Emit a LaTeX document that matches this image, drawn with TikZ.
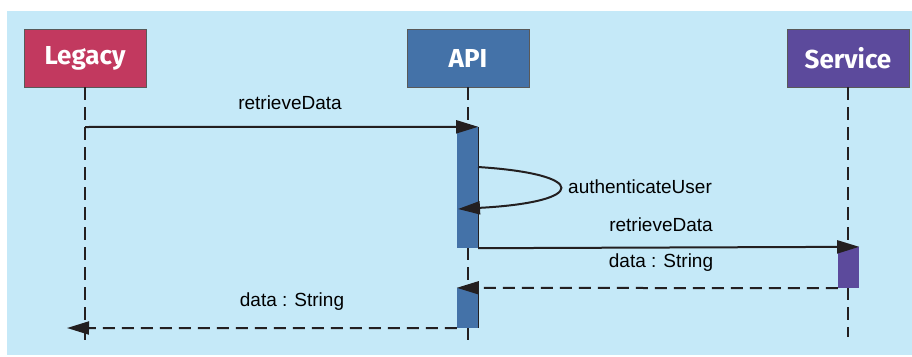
\documentclass[tikz,border=0pt]{standalone}
\usepackage{fontspec}
\setmainfont{Liberation Sans}
\newfontfamily\headfont{Fira Sans}[UprightFont=* Bold]
\usetikzlibrary{arrows.meta}
\definecolor{bgblue}{HTML}{C5E9F8}
\definecolor{legacyc}{HTML}{C2395F}
\definecolor{apic}{HTML}{4472A8}
\definecolor{servc}{HTML}{5C4A9C}
\definecolor{inkc}{HTML}{231F20}
\tikzset{
  x=1pt,y=-1pt,
  actor/.style={minimum width=122pt,minimum height=58pt,inner sep=0pt,draw=gray!70!black,line width=0.6pt,
    text=white,font=\headfont\fontsize{26}{26}\selectfont},
  lifeline/.style={draw=inkc,line width=2.6pt,dash pattern=on 13pt off 7pt},
  msg/.style={draw=inkc,line width=2pt,-{Triangle[length=22pt,width=13pt]}},
  reply/.style={msg,dash pattern=on 12pt off 7pt},
  lbl/.style={font=\fontsize{19}{19}\selectfont,text=black,inner sep=0pt},
  actbar/.style={inner sep=0pt,minimum width=21pt}
}
\begin{document}
\begin{tikzpicture}
\useasboundingbox (0,0) rectangle (912,356);
\fill[bgblue] (7,11) rectangle (912,355);
% actors
\node[actor,fill=legacyc] (legacy) at (85,58) {Legacy};
\node[actor,fill=apic] (api) at (468,58) {API};
\node[actor,fill=servc] (service) at (848,58) {Service};
% lifelines
\coordinate (legacy-end) at (85,342);
\coordinate (api-end) at (468,342);
\coordinate (service-end) at (848,337);
\draw[lifeline] (legacy.south) -- (legacy-end);
\draw[lifeline] (api.south) -- (api-end);
\draw[lifeline] (service.south) -- (service-end);
% activation bars
\node[actbar,fill=apic,minimum height=121pt] (act1) at (467.5,187.5) {};
\node[actbar,fill=apic,minimum height=40pt] (act2) at (467.5,308) {};
\node[actbar,fill=servc,minimum height=41pt] (act3) at (848.5,267.5) {};
\draw[inkc,line width=1pt] (act1.north east) -- (act1.south east);
\draw[inkc,line width=1pt] (act2.north east) -- (act2.south east);
% coordinates for messages
\coordinate (m1s) at (85,127);
\coordinate (m1e) at (act1.north east);
\coordinate (m2s) at (478,167);
\coordinate (m2e) at (458,209);
\coordinate (m3s) at (act1.south east);
\coordinate (m3e) at (act3.north east);
\coordinate (m4s) at (act3.south west);
\coordinate (m4e) at (act2.north west);
\coordinate (m5s) at (act2.south west);
\coordinate (m5e) at (67,328);
% messages
\draw[msg] (m1s) -- (m1e);
\draw[msg] (m2s) .. controls (589,174) and (589,202) .. (m2e);
\draw[msg] (m3s) -- (m3e);
\draw[reply] (m4s) -- (m4e);
\draw[reply] (m5s) -- (m5e);
% labels
\node[lbl] (l1) at (290,103) {retrieveData};
\node[lbl,anchor=west] (l2) at (568,187) {authenticateUser};
\node[lbl] (l3) at (661,225) {retrieveData};
\node[lbl] (l4) at (661,263) {data : String};
\node[lbl] (l5) at (292,302) {data : String};
\end{tikzpicture}
\end{document}
